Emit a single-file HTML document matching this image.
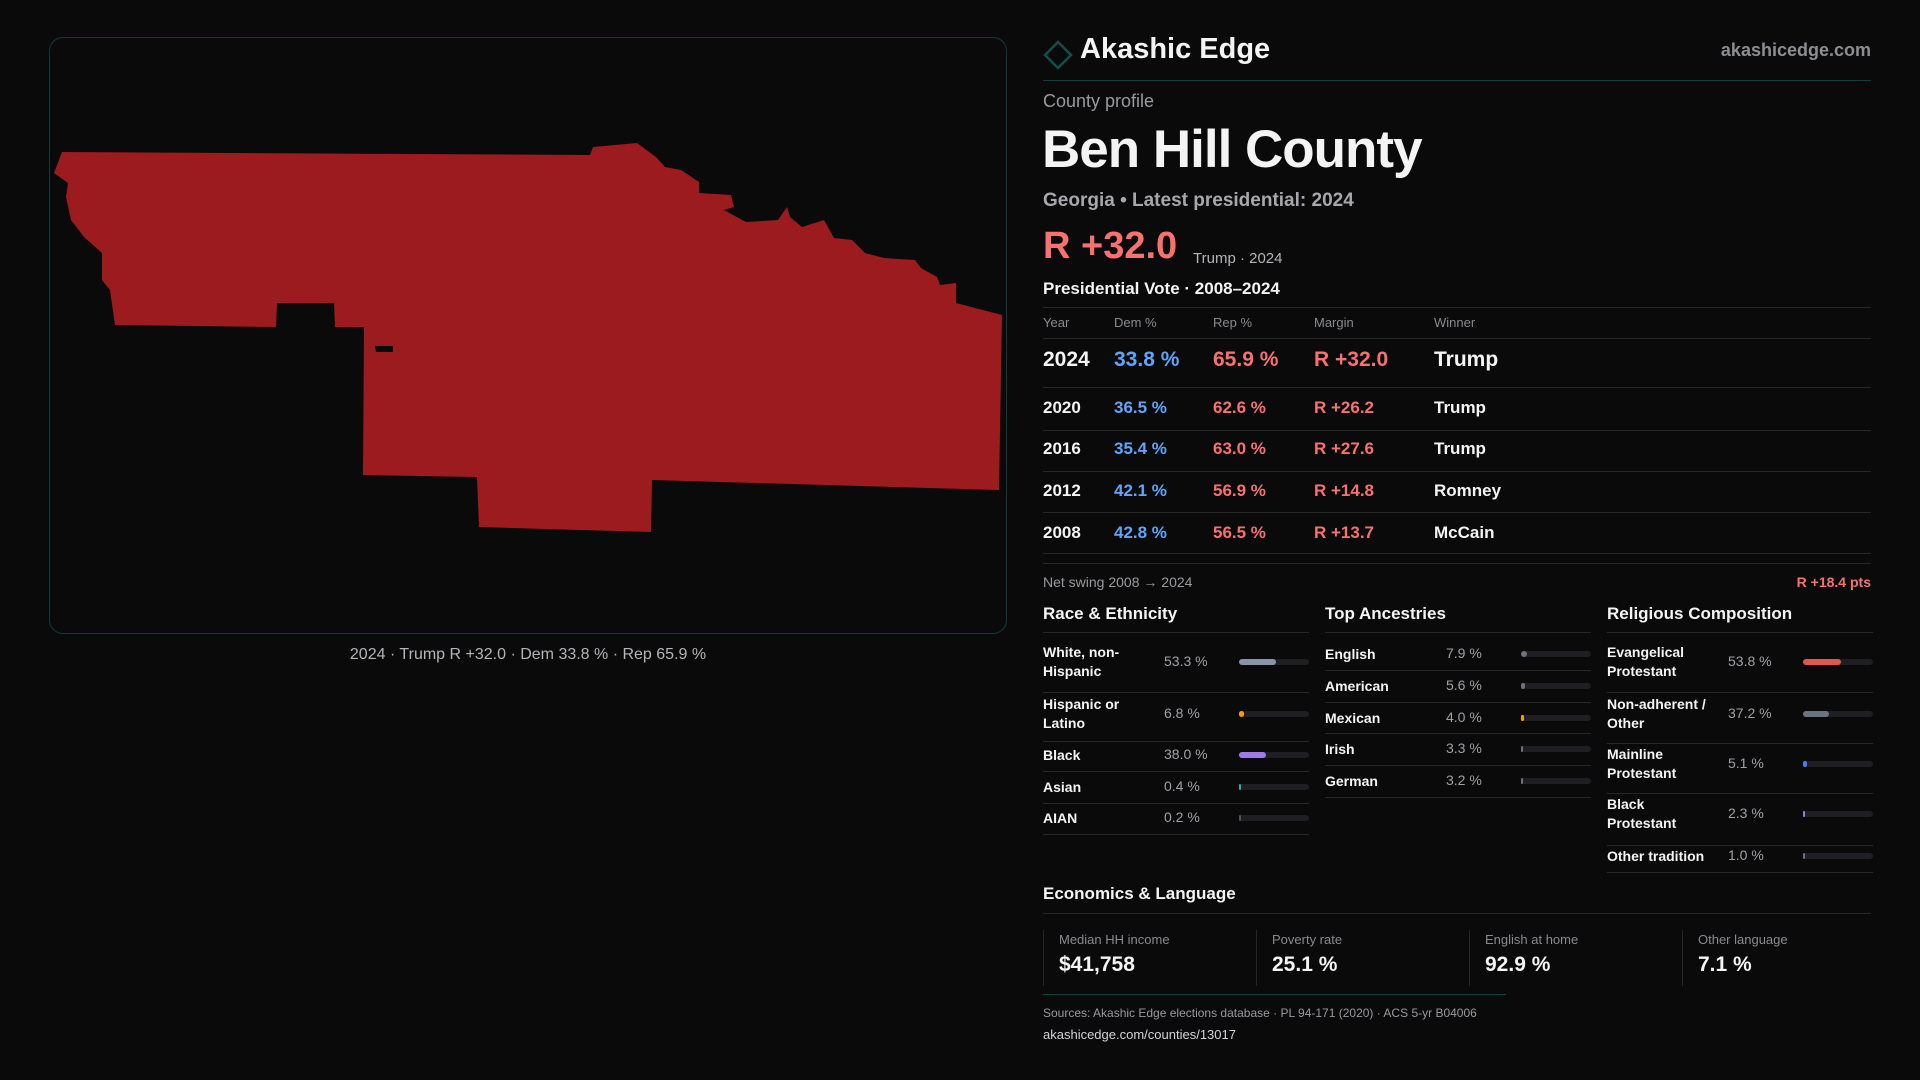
<!DOCTYPE html>
<html><head><meta charset="utf-8">
<style>
*{margin:0;padding:0;box-sizing:border-box}
body{width:1920px;height:1080px;background:#0a0a0b;font-family:"Liberation Sans",sans-serif;color:#f4f4f5;position:relative;overflow:hidden}
.a{position:absolute;white-space:nowrap}
.g{color:#9a9a9e}
.line{position:absolute;height:1px;background:#26262a}
.hdr{font-size:13px;color:#8a8a8e}
.red{color:#f87171}.blue{color:#60a5fa}
.track{position:absolute;height:6px;border-radius:3px;background:#1f1f23}
.fill{position:absolute;left:0;top:0;height:6px;border-radius:3px}
</style></head><body>
<div class="a" style="left:49px;top:37px;width:958px;height:597px;border:1px solid #123a3e;border-radius:14px;background:#0a0a0b"></div>
<svg class="a" style="left:0;top:0" width="1010" height="640">
<path fill="#9b1b1f" fill-rule="evenodd" d="M62,152 L590,155 593,147 637,143 656,157 665,167 681,170 699,182 699,193 731,195 734,207 724,210 746,222 778,220 787,207 790,217 802,227 824,220 834,238 852,240 865,253 884,258 915,260 921,268 937,277 940,285 956,283 956,303 1002,315 999,490 652,480 651,532 479,527 477,477 363,475 364,327 335,327 334,303 277,303 276,327 115,325 110,290 102,280 102,253 84,237 71,220 66,197 68,183 54,173 Z M375,346 L393,346 393,352 376,352 Z"/>
</svg>
<div class="a g" style="left:0;width:1056px;text-align:center;top:646px;font-size:16px;color:#b5b5b8">2024 · Trump R +32.0 · Dem 33.8 % · Rep 65.9 %</div>

<svg class="a" style="left:1043px;top:40px" width="30" height="30"><path d="M15,2 L28,15 15,28 2,15Z" fill="none" stroke="#134e4a" stroke-width="2.5"/></svg>
<div class="a" style="left:1080px;top:33px;font-size:29px;font-weight:bold">Akashic Edge</div>
<div class="a g" style="right:49px;top:40px;font-size:18px;font-weight:bold;color:#8e8e92">akashicedge.com</div>
<div class="line" style="left:1043px;top:80px;width:828px;background:#123e42"></div>
<div class="a g" style="left:1043px;top:91px;font-size:18px">County profile</div>
<div class="a" style="left:1042px;top:119px;font-size:53px;font-weight:bold;letter-spacing:-1px">Ben Hill County</div>
<div class="a g" style="left:1043px;top:190px;font-size:19px;font-weight:bold;color:#a8a8ac">Georgia • Latest presidential: 2024</div>
<div class="a red" style="left:1043px;top:225px;font-size:38px;font-weight:bold">R +32.0</div>
<div class="a g" style="left:1193px;top:250px;font-size:15px;color:#b5b5b8">Trump · 2024</div>
<div class="a" style="left:1043px;top:279px;font-size:17px;font-weight:bold">Presidential Vote · 2008–2024</div>
<div class="line" style="left:1043px;top:307px;width:828px"></div>
<div class="a hdr" style="left:1043px;top:315px">Year</div>
<div class="a hdr" style="left:1114px;top:315px">Dem %</div>
<div class="a hdr" style="left:1213px;top:315px">Rep %</div>
<div class="a hdr" style="left:1314px;top:315px">Margin</div>
<div class="a hdr" style="left:1434px;top:315px">Winner</div>
<div class="line" style="left:1043px;top:338px;width:828px"></div>
<div id="vote-rows"></div>
<div class="line" style="left:1043px;top:563px;width:828px"></div>
<div class="a g" style="left:1043px;top:574px;font-size:14px">Net swing 2008 → 2024</div>
<div class="a red" style="right:49px;top:574px;font-size:14px;font-weight:bold">R +18.4 pts</div>
<div id="panels"></div>

<div class="a" style="left:1043px;top:884px;font-size:17px;font-weight:bold">Economics &amp; Language</div>
<div class="line" style="left:1043px;top:913px;width:828px"></div>
<div id="stats"></div>
<div class="line" style="left:1043px;top:994px;width:463px;background:#123e42"></div>
<div class="a g" style="left:1043px;top:1006px;font-size:12px">Sources: Akashic Edge elections database · PL 94-171 (2020) · ACS 5-yr B04006</div>
<div class="a" style="left:1043px;top:1027px;font-size:13px;color:#d4d4d8">akashicedge.com/counties/13017</div>

<script>
const years=['2024','2020','2016','2012','2008'];
const dem=[33.8,36.5,35.4,42.1,42.8];
const rep=[65.9,62.6,63.0,56.9,56.5];
const margins=[32.0,26.2,27.6,14.8,13.7];
const winners=['Trump','Trump','Trump','Romney','McCain'];
const raceLabels=['White, non-<br>Hispanic','Hispanic or<br>Latino','Black','Asian','AIAN'];
const raceVals=[53.3,6.8,38.0,0.4,0.2];
const ancLabels=['English','American','Mexican','Irish','German'];
const ancVals=[7.9,5.6,4.0,3.3,3.2];
const relLabels=['Evangelical<br>Protestant','Non-adherent /<br>Other','Mainline<br>Protestant','Black<br>Protestant','Other tradition'];
const relVals=[53.8,37.2,5.1,2.3,1.0];
const statLabels=['Median HH income','Poverty rate','English at home','Other language'];
const statVals=['$41,758','25.1 %','92.9 %','7.1 %'];

const vr=document.getElementById('vote-rows');
const rowY=[361,408,449,491,533];
years.forEach((y,i)=>{
  const big=i===0, fs=big?21:17, t=rowY[i]-fs*0.6;
  const row=document.createElement('div');
  
  
  row.innerHTML=`<div class="a" style="left:1043px;top:${t}px;font-size:${fs}px;font-weight:bold">${y}</div>
<div class="a blue" style="left:1114px;top:${t}px;font-size:${fs}px;font-weight:bold">${dem[i].toFixed(1)} %</div>
<div class="a red" style="left:1213px;top:${t}px;font-size:${fs}px;font-weight:bold">${rep[i].toFixed(1)} %</div>
<div class="a red" style="left:1314px;top:${t}px;font-size:${fs}px;font-weight:bold">R +${margins[i].toFixed(1)}</div>
<div class="a" style="left:1434px;top:${t}px;font-size:${fs}px;font-weight:bold">${winners[i]}</div>`;
  vr.appendChild(row);
  const ly=[387,430,471,512,553][i];
  const l=document.createElement('div');l.className='line';l.style.cssText=`left:1043px;top:${ly}px;width:828px`;vr.appendChild(l);
});

const P=document.getElementById('panels');
function panel(x,title,labels,vals,colors,rowsY,linesY,name){
  const h=document.createElement('div');h.className='a';
  
  
  h.style.cssText=`left:${x}px;top:604px;font-size:17px;font-weight:bold`;h.textContent=title;P.appendChild(h);
  let l=document.createElement('div');l.className='line';l.style.cssText=`left:${x}px;top:632px;width:266px`;P.appendChild(l);
  labels.forEach((lab,i)=>{
    const cy=rowsY[i];const two=lab.includes('<br>');
    const d=document.createElement('div');d.className='a';
    
    
    d.style.cssText=`left:${x}px;top:${cy-(two?19:9)}px;font-size:14px;font-weight:bold;line-height:19px`;d.innerHTML=lab;P.appendChild(d);
    const v=document.createElement('div');v.className='a g';
    
    
    v.style.cssText=`left:${x+121}px;top:${cy-9}px;font-size:14px;color:#a1a1a5`;v.textContent=vals[i].toFixed(1)+' %';P.appendChild(v);
    const tr=document.createElement('div');tr.className='track';
    
    
    tr.style.cssText=`left:${x+196}px;top:${cy-3}px;width:70px`;
    const f=document.createElement('div');f.className='fill';
    f.style.width=Math.max(2,vals[i]/100*70)+'px';f.style.background=colors[i];
    tr.appendChild(f);P.appendChild(tr);
    l=document.createElement('div');l.className='line';l.style.cssText=`left:${x}px;top:${linesY[i]}px;width:266px`;P.appendChild(l);
  });
}
panel(1043,'Race & Ethnicity',raceLabels,raceVals,['#8b93a7','#f59e0b','#9f7aea','#14b8a6','#555'],[662,714,755,787,818],[692,741,771,803,834],'race');
panel(1325,'Top Ancestries',ancLabels,ancVals,['#6b7280','#6b7280','#f59e0b','#6b7280','#6b7280'],[654,686,718,749,781],[670,702,733,765,797],'ancestry');
panel(1607,'Religious Composition',relLabels,relVals,['#e05555','#6b7280','#3b82f6','#9f7aea','#6b7280'],[662,714,764,814,856],[692,743,793,845,872],'religion');

const S=document.getElementById('stats');
statLabels.forEach((lab,i)=>{
  const x=1043+i*213;
  const d=document.createElement('div');d.className='a';
  
  
  d.style.cssText=`left:${x}px;top:930px;width:213px;height:56px;border-left:1px solid #26262a;padding-left:15px`;
  d.innerHTML=`<div style="font-size:13px;color:#8a8a8e;margin-top:2px">${lab}</div><div style="font-size:21px;font-weight:bold;margin-top:6px">${statVals[i]}</div>`;
  S.appendChild(d);
});
</script>
</body></html>
